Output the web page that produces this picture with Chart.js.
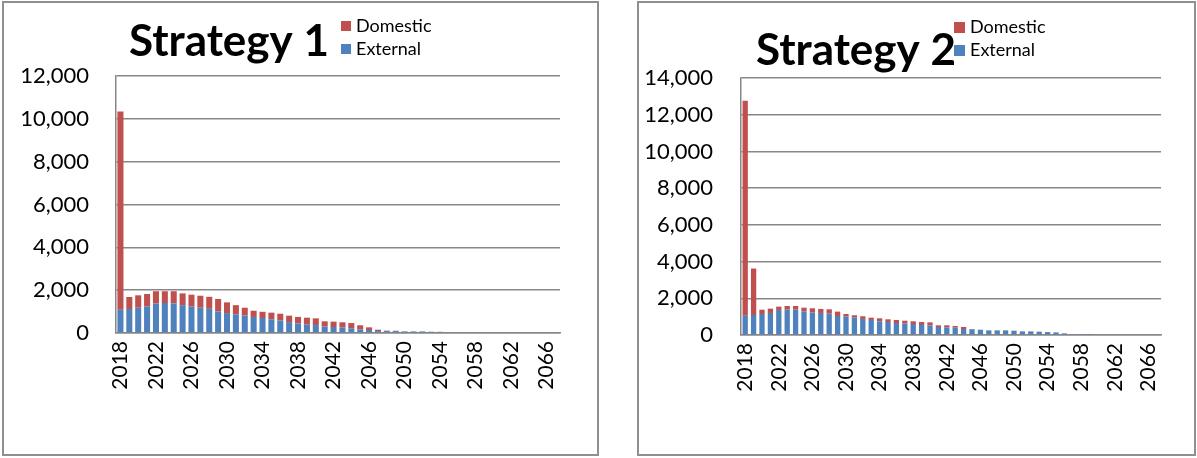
<!DOCTYPE html>
<html>
<head>
<meta charset="utf-8">
<title>Strategy 1 / Strategy 2</title>
<script src="https://cdn.jsdelivr.net/npm/chart.js@4/dist/chart.umd.min.js"></script>
<style>
  html, body { margin: 0; padding: 0; background: #fff; }
  body { position: relative; width: 1197px; height: 458px; overflow: hidden; }
  .frame { position: absolute; box-sizing: border-box; border: 2px solid #8f8f8f; }
  canvas { position: absolute; top: 0; }
</style>
</head>
<body>
<div class="frame" style="left:2px; top:1px; width:597px; height:455px;"></div>
<div class="frame" style="left:637px; top:1px; width:559px; height:455px;"></div>
<canvas id="chart1" style="left:0; width:600px; height:458px;" width="600" height="458"></canvas>
<canvas id="chart2" style="left:600px; width:597px; height:458px;" width="597" height="458"></canvas>

<script>
/* ================================================
   Debt service profile — Strategy 1 vs Strategy 2
   Stacked bars, external + domestic, 2018–2067
   ================================================ */

const YEARS = [
  '2018','2019','2020','2021','2022','2023','2024','2025','2026','2027',
  '2028','2029','2030','2031','2032','2033','2034','2035','2036','2037',
  '2038','2039','2040','2041','2042','2043','2044','2045','2046','2047',
  '2048','2049','2050','2051','2052','2053','2054','2055','2056','2057',
  '2058','2059','2060','2061','2062','2063','2064','2065','2066','2067',
];

// Strategy 1
const S1_EXTERNAL = [
  1090, 1120, 1180, 1240, 1380, 1400, 1380, 1300, 1230, 1180,
  1130, 1010,  930,  870,  820,  750,  700,  640,  590,  510,
   440,  390,  370,  300,  280,  260,  220,  170,  140,   90,
    90,   90,   70,   70,   70,   55,   50,    0,    0,    0,
     0,    0,    0,    0,    0,    0,    0,    0,    0,    0,
];
const S1_DOMESTIC = [
  9250,  560,  580,  580,  570,  550,  570,  550,  560,  560,
   560,  580,  500,  430,  360,  290,  290,  310,  310,  300,
   310,  325,  315,  245,  250,  240,  245,  190,  125,   65,
    20,   15,   10,    8,    8,    5,    5,    0,    0,    0,
     0,    0,    0,    0,    0,    0,    0,    0,    0,    0,
];

// Strategy 2
const S2_EXTERNAL = [
  1055, 1090, 1145, 1200, 1365, 1380, 1380, 1290, 1220, 1200,
  1165, 1035, 1000,  945,  875,  820,  745,  710,  655,  625,
   600,  545,  527,  436,  418,  400,  327,  310,  285,  250,
   250,  250,  230,  195,  195,  180,  160,  140,   88,   35,
    18,   10,    0,    0,    0,    0,    0,    0,    0,    0,
];
const S2_DOMESTIC = [
  11705, 2530,  235,  235,  180,  200,  200,  200,  235,  220,
    235,  240,  145,  130,  145,  125,  165,  145,  165,  155,
    145,  165,  163,   91,  109,   90,  109,   15,    5,    5,
      5,    5,    6,    5,    5,    2,    4,    5,    3,    1,
      0,    0,    0,    0,    0,    0,    0,    0,    0,    0,
];

const S1_TICKS = { max: 12000, step: 2000 };
const S2_TICKS = { max: 14000, step: 2000 };

const RED  = '#C0504D';
const BLUE = '#4F81BD';
const GRID = '#878787';
const FONT = 'Lato, "Open Sans", sans-serif';

/**
 * Title + legend drawn by hand (free positions, Excel-style).
 */
const headingPlugin = {
  id: 'heading',
  afterDraw(chart, args, o) {
    const ctx = chart.ctx;
    ctx.save();
    ctx.fillStyle = '#000';
    ctx.font = `bold ${o.titleSize}px ${FONT}`;
    ctx.textAlign = 'center';
    ctx.textBaseline = 'alphabetic';
    ctx.fillText(o.title, o.titleX, o.titleY);

    // Domestic on top, External below
    ctx.font = `18px ${FONT}`;
    ctx.textAlign = 'left';
    const items = chart.data.datasets.slice().reverse();
    items.forEach((ds, i) => {
      const base = o.legendY + i * o.legendGap;
      ctx.fillStyle = ds.backgroundColor;
      ctx.fillRect(o.legendX, base - 11, o.box, o.box);
      ctx.fillStyle = '#000';
      ctx.fillText(ds.label, o.legendX + o.box + 5, base);
    });
    ctx.restore();
  },
};

/**
 * Build one stacked External / Domestic chart.
 */
function createStrategyChart(canvas, ext, dom, ticks, geo) {
  return new Chart(canvas, {
    type: 'bar',
    data: {
      labels: YEARS,
      datasets: [
        { label: 'External', data: ext, backgroundColor: BLUE,
          barPercentage: geo.bar, categoryPercentage: 1 },
        { label: 'Domestic', data: dom, backgroundColor: RED,
          barPercentage: geo.bar, categoryPercentage: 1 },
      ],
    },
    options: {
      responsive: false,
      animation: false,
      layout: { padding: { left: 0, top: geo.top, right: geo.right, bottom: 0 } },
      plugins: {
        legend:  { display: false },
        tooltip: { enabled: false },
        heading: geo.heading,
      },
      scales: {
        x: {
          stacked: true,
          grid:   { display: false, drawTicks: false },
          border: { display: true, color: GRID, width: 1.5 },
          ticks: {
            color: '#000',
            font: { family: FONT, size: 21 },
            autoSkip: false,
            maxRotation: 90,
            minRotation: 90,
            padding: 8,
            callback: (v, i) => (i % 4 === 0 ? YEARS[i] : ''),
          },
          afterFit: s => { s.height = geo.xHeight; },
        },
        y: {
          stacked: true,
          min: 0,
          max: ticks.max,
          grid:   { color: GRID, lineWidth: 1.5, drawTicks: false },
          border: { display: true, color: GRID, width: 1.5 },
          ticks: {
            stepSize: ticks.step,
            color: '#000',
            font: { family: FONT, size: 22 },
            padding: geo.yPad,
          },
          afterFit: s => { s.width = geo.yWidth; },
        },
      },
    },
    plugins: [headingPlugin],
  });
}

function draw() {
  createStrategyChart(document.getElementById('chart1'), S1_EXTERNAL, S1_DOMESTIC, S1_TICKS, {
    bar: 0.68, top: 76, right: 40, xHeight: 125, yWidth: 116, yPad: 27,
    heading: { title: 'Strategy 1', titleSize: 44, titleX: 229, titleY: 56,
               legendX: 341, legendY: 32, legendGap: 23, box: 10 },
  });
  createStrategyChart(document.getElementById('chart2'), S2_EXTERNAL, S2_DOMESTIC, S2_TICKS, {
    bar: 0.63, top: 78, right: 36, xHeight: 123, yWidth: 141, yPad: 28,
    heading: { title: 'Strategy 2', titleSize: 44, titleX: 256, titleY: 65,
               legendX: 354, legendY: 33, legendGap: 23, box: 11 },
  });
}

Promise.all([
  document.fonts.load(`bold 44px ${FONT}`),
  document.fonts.load(`18px ${FONT}`),
]).catch(() => {}).then(draw);
</script>
</body>
</html>
